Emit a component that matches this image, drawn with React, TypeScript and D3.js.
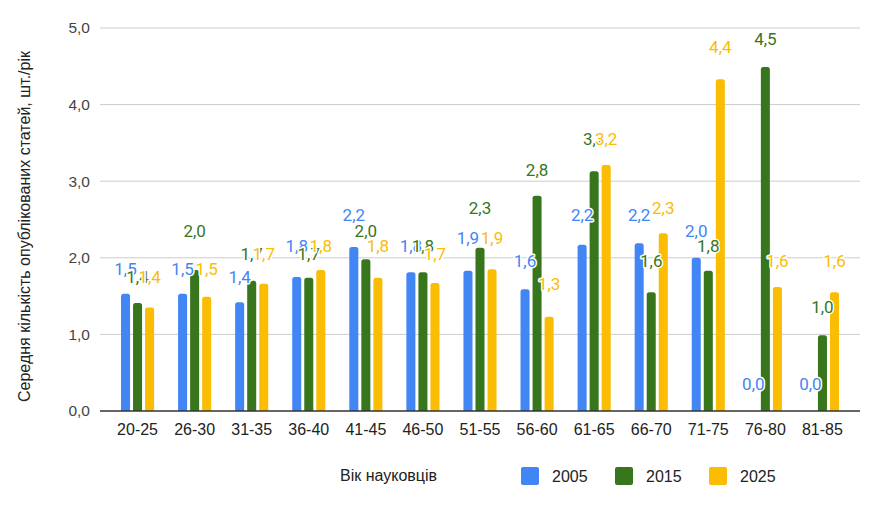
import React, { useRef, useEffect } from 'react';
import * as d3 from 'd3';

// age groups
const categories = ['20-25', '26-30', '31-35', '36-40', '41-45', '46-50', '51-55', '56-60', '61-65', '66-70', '71-75', '76-80', '81-85'];
const seriesNames = ['2005', '2015', '2025'];
const seriesColors = ['#4285f4', '#38761d', '#fbbc04'];

// bar heights
const values2005 = [1.53, 1.53, 1.42, 1.75, 2.14, 1.81, 1.83, 1.59, 2.17, 2.19, 2.0, 0, 0];
const values2015 = [1.41, 1.84, 1.7, 1.74, 1.98, 1.81, 2.13, 2.81, 3.13, 1.55, 1.83, 4.49, 0.99];
const values2025 = [1.35, 1.49, 1.66, 1.84, 1.74, 1.67, 1.85, 1.23, 3.21, 2.32, 4.33, 1.62, 1.55];

// data labels as shown on the chart
const labels2005 = [1.5, 1.5, 1.4, 1.8, 2.2, 1.8, 1.9, 1.6, 2.2, 2.2, 2.0, 0, 0];
const labels2015 = [1.4, 2.0, 1.7, 1.7, 2.0, 1.8, 2.3, 2.8, 3.2, 1.6, 1.8, 4.5, 1.0];
const labels2025 = [1.4, 1.5, 1.7, 1.8, 1.8, 1.7, 1.9, 1.3, 3.2, 2.3, 4.4, 1.6, 1.6];

const yTicks = [0, 1, 2, 3, 4, 5];
const yTitle = 'Середня кількість опублікованих статей, шт./рік';
const xTitle = 'Вік науковців';

const fmt = (v: number) => d3.format('.1f')(v).replace('.', ',');

export default function App() {
    const svgRef = useRef<SVGSVGElement | null>(null);

    useEffect(() => {
        if (!svgRef.current) return;
        const svg = d3.select(svgRef.current);
        svg.selectAll('*').remove();

        const left = 100, right = 860, top = 28, bottom = 411;
        const series = [values2005, values2015, values2025];
        const labelSets = [labels2005, labels2015, labels2025];

        const x = d3.scaleBand<string>()
            .domain(categories)
            .range([left, right])
            .paddingInner(0.42)
            .paddingOuter(0.368);
        const xInner = d3.scaleBand<string>()
            .domain(seriesNames)
            .range([0, x.bandwidth()])
            .paddingInner(0.25);
        const y = d3.scaleLinear().domain([0, 5]).range([bottom, top]);

        const axisFont = 'Arial, "Liberation Sans", sans-serif';

        // gridlines
        svg.append('g').selectAll('line')
            .data(yTicks.filter(t => t > 0))
            .enter().append('line')
            .attr('x1', left).attr('x2', right)
            .attr('y1', d => y(d)).attr('y2', d => y(d))
            .attr('stroke', '#cccccc').attr('stroke-width', 1);

        // y tick labels
        svg.append('g').selectAll('text')
            .data(yTicks)
            .enter().append('text')
            .attr('x', 90)
            .attr('y', d => y(d))
            .attr('dy', '0.35em')
            .attr('text-anchor', 'end')
            .style('font-family', axisFont)
            .style('font-size', '15.5px')
            .attr('fill', '#444')
            .text(d => fmt(d));

        // bars
        const r = 2.5;
        const barPath = (x0: number, w: number, yTop: number) => {
            const h = bottom - yTop;
            if (h <= 0) return '';
            const rr = Math.min(r, h, w / 2);
            return `M${x0},${bottom}V${yTop + rr}Q${x0},${yTop} ${x0 + rr},${yTop}H${x0 + w - rr}Q${x0 + w},${yTop} ${x0 + w},${yTop + rr}V${bottom}Z`;
        };

        series.forEach((vals, si) => {
            svg.append('g').selectAll('path')
                .data(vals)
                .enter().append('path')
                .attr('d', (d, i) => barPath(x(categories[i])! + xInner(seriesNames[si])!, xInner.bandwidth(), y(d)))
                .attr('fill', seriesColors[si]);
        });

        // baseline
        svg.append('line')
            .attr('x1', left).attr('x2', right)
            .attr('y1', bottom).attr('y2', bottom)
            .attr('stroke', '#333').attr('stroke-width', 1.5);

        // data labels
        labelSets.forEach((vals, si) => {
            svg.append('g').selectAll('text')
                .data(vals)
                .enter().append('text')
                .attr('x', (d, i) => x(categories[i])! + xInner(seriesNames[si])! + xInner.bandwidth() / 2)
                .attr('y', d => y(d) - 21)
                .attr('text-anchor', 'middle')
                .style('font-family', 'Roboto, sans-serif')
                .style('font-size', '17px')
                .attr('fill', seriesColors[si])
                .attr('stroke', '#fff')
                .attr('stroke-width', 3)
                .attr('stroke-linejoin', 'round')
                .style('paint-order', 'stroke')
                .text(d => fmt(d));
        });

        // category labels
        svg.append('g').selectAll('text')
            .data(categories)
            .enter().append('text')
            .attr('x', d => x(d)! + x.bandwidth() / 2)
            .attr('y', 435)
            .attr('text-anchor', 'middle')
            .style('font-family', axisFont)
            .style('font-size', '16px')
            .attr('fill', '#222')
            .text(d => d);

        // y title
        svg.append('text')
            .attr('transform', `translate(30,${(top + 425) / 2}) rotate(-90)`)
            .attr('text-anchor', 'middle')
            .style('font-family', axisFont)
            .style('font-size', '16px')
            .attr('fill', '#222')
            .text(yTitle);

        // x title + legend
        svg.append('text')
            .attr('x', 340).attr('y', 481)
            .style('font-family', axisFont)
            .style('font-size', '16px')
            .attr('fill', '#222')
            .text(xTitle);

        const legendX = [521, 615, 709];
        seriesNames.forEach((name, si) => {
            const g = svg.append('g').attr('transform', `translate(${legendX[si]},467)`);
            g.append('rect')
                .attr('width', 18).attr('height', 18).attr('rx', 2)
                .attr('fill', seriesColors[si]);
            g.append('text')
                .attr('x', 31).attr('y', 14.5)
                .style('font-family', axisFont)
                .style('font-size', '16px')
                .attr('fill', '#222')
                .text(name);
        });
    }, []);

    return (
        <div style={{ position: 'absolute', left: 0, top: 0, width: 880, height: 505, background: '#fff' }}>
            <svg ref={svgRef} width={880} height={505} style={{ display: 'block' }}></svg>
        </div>
    );
}
